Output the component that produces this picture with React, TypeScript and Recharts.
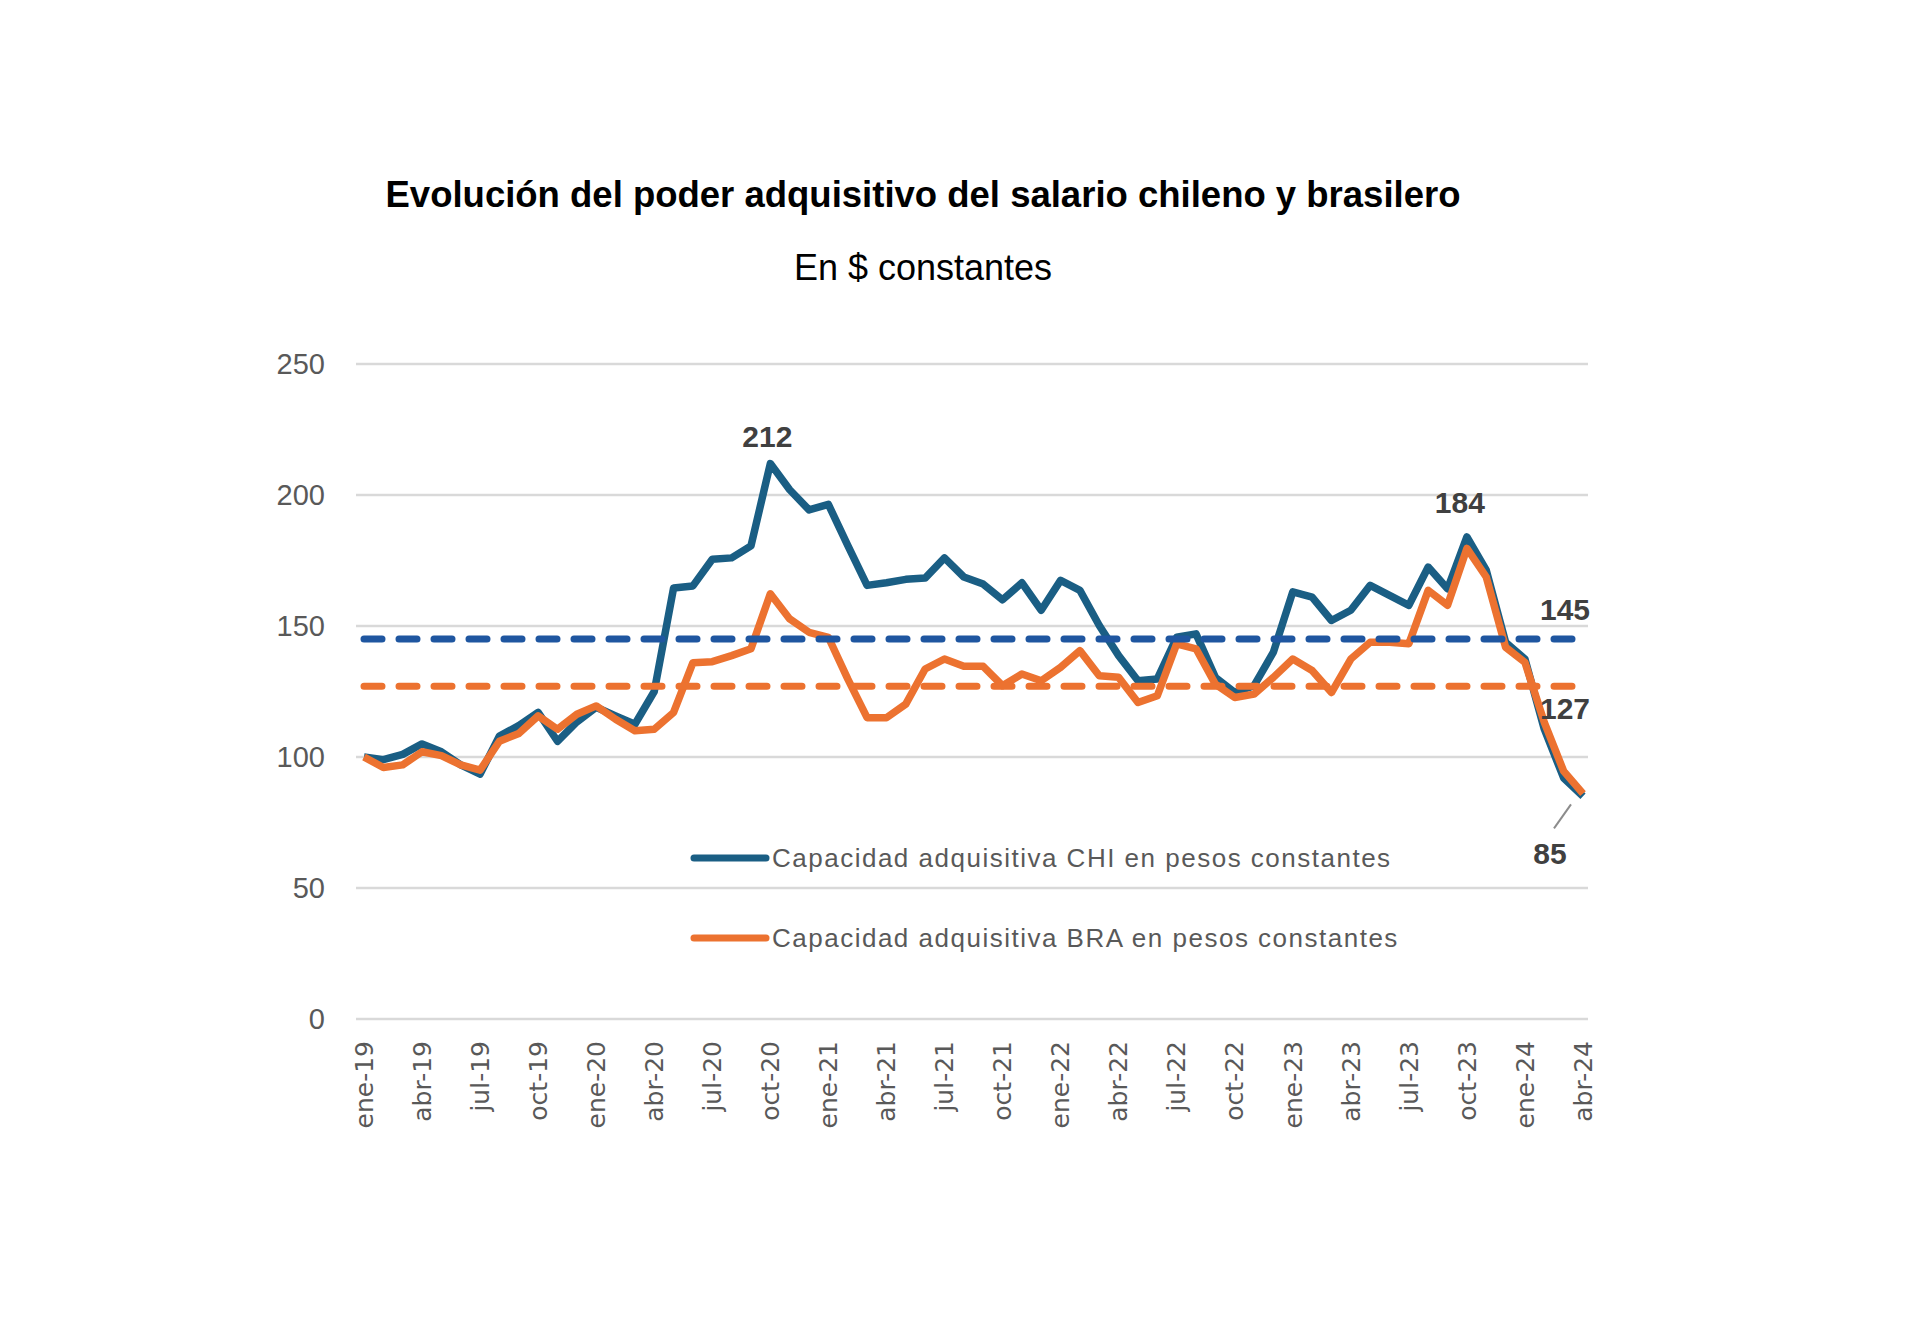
import { LineChart, Line, XAxis, YAxis, CartesianGrid, ReferenceLine, Legend } from "recharts";

const months = [
  "ene-19", "feb-19", "mar-19", "abr-19", "may-19", "jun-19", "jul-19", "ago-19", "sep-19", "oct-19", "nov-19", "dic-19",
  "ene-20", "feb-20", "mar-20", "abr-20", "may-20", "jun-20", "jul-20", "ago-20", "sep-20", "oct-20", "nov-20", "dic-20",
  "ene-21", "feb-21", "mar-21", "abr-21", "may-21", "jun-21", "jul-21", "ago-21", "sep-21", "oct-21", "nov-21", "dic-21",
  "ene-22", "feb-22", "mar-22", "abr-22", "may-22", "jun-22", "jul-22", "ago-22", "sep-22", "oct-22", "nov-22", "dic-22",
  "ene-23", "feb-23", "mar-23", "abr-23", "may-23", "jun-23", "jul-23", "ago-23", "sep-23", "oct-23", "nov-23", "dic-23",
  "ene-24", "feb-24", "mar-24", "abr-24",
];

// Capacidad adquisitiva CHI (base ene-19 = 100)
const chi = [
  100, 99, 101, 105, 102, 97, 93.5, 108, 112, 117, 106, 113.4,
  119, 115.7, 112.5, 125, 164.5, 165.3, 175.5, 176, 180.6, 212, 202, 194.3,
  196.4, 180.8, 165.5, 166.5, 167.8, 168.3, 176, 168.7, 166, 160, 166.5, 156,
  167.4, 163.6, 150.2, 138.7, 129.1, 129.8, 145.7, 147, 130.4, 124.6, 127.2, 140,
  163, 161, 152.1, 156, 165.5, 161.7, 157.9, 172.5, 164.2, 184, 171.3, 143.8,
  137.4, 110.6, 92, 85,
];

// Capacidad adquisitiva BRA (base ene-19 = 100)
const bra = [
  100, 96, 97, 102, 100.5, 97, 95, 106, 109, 115.7, 110.6, 116.3,
  119.5, 114.4, 110, 110.6, 117, 136, 136.4, 138.7, 141.3, 162.3, 152.7, 147.6,
  145.7, 129.8, 115, 115, 120.2, 133.6, 137.4, 134.6, 134.6, 127.2, 131.7, 129.1,
  134.2, 140.6, 131, 130.4, 120.8, 123.4, 143.2, 141.3, 127.8, 122.7, 124, 130.4,
  137.4, 133, 124.6, 137.4, 143.8, 143.8, 143.2, 163.6, 157.9, 179.6, 168.7, 141.9,
  136.1, 113.2, 94.6, 86,
];

const chiAvg = 145;
const braAvg = 127;
const yTicks = [0, 50, 100, 150, 200, 250];

const seriesNames = {
  chi: "Capacidad adquisitiva CHI en pesos constantes",
  bra: "Capacidad adquisitiva BRA en pesos constantes",
};

const CHI_COLOR = "#1A5E84";
const BRA_COLOR = "#EC7230";
const CHI_AVG_COLOR = "#1F56A0";
const BRA_AVG_COLOR = "#EC7230";
const TEXT_GRAY = "#595959";
const LABEL_DARK = "#404040";

const data = months.map((m, i) => ({ month: m, chi: chi[i], bra: bra[i] }));

function MonthTick({ x, y, payload }: any) {
  return (
    <g transform={`translate(${x},${y}) rotate(-90)`}>
      <text x={0} y={0} dy="0.35em" textAnchor="end" fill={TEXT_GRAY} fontSize={25} fontFamily="DejaVu Sans">
        {payload.value}
      </text>
    </g>
  );
}

const numStyle = { fontFamily: "Liberation Sans, Arial", fontWeight: 700, fontSize: 30, fill: LABEL_DARK };

// peaks marked above the line, last point marked below with a leader
const peakOffsets: Record<number, [number, number]> = { 21: [-3, -27], 57: [-7, -34] };

function ChiLabel(p: any) {
  const { x, y, index, value } = p;
  if (peakOffsets[index]) {
    const [dx, dy] = peakOffsets[index];
    return (
      <text x={x + dx} y={y + dy} textAnchor="middle" dominantBaseline="central" {...numStyle}>
        {Math.round(value)}
      </text>
    );
  }
  if (index === chi.length - 1) {
    return (
      <g>
        <line x1={x - 12} y1={y + 8} x2={x - 29} y2={y + 32} stroke="#8c8c8c" strokeWidth={2} />
        <text x={x - 33} y={y + 57} textAnchor="middle" dominantBaseline="central" {...numStyle}>
          {Math.round(value)}
        </text>
      </g>
    );
  }
  return <g />;
}

function avgLabel(text: string, dy: number) {
  return (p: any) => {
    const vb = p.viewBox || {};
    return (
      <text x={vb.x + vb.width - 18} y={vb.y + dy} textAnchor="middle" dominantBaseline="central" {...numStyle}>
        {text}
      </text>
    );
  };
}

function LegendBox() {
  const rows = [
    { name: seriesNames.chi, color: CHI_COLOR },
    { name: seriesNames.bra, color: BRA_COLOR },
  ];
  return (
    <div style={{ position: "relative", width: 720, height: 120 }}>
      {rows.map((r, i) => (
        <div key={r.name} style={{ position: "absolute", left: 0, top: i * 80, height: 40, display: "flex", alignItems: "center" }}>
          <svg width={82} height={12}>
            <line x1={4} y1={6} x2={76} y2={6} stroke={r.color} strokeWidth={7} strokeLinecap="round" />
          </svg>
          <span style={{ fontFamily: "Liberation Sans, Arial", fontSize: 26, letterSpacing: 1.5, color: TEXT_GRAY, whiteSpace: "nowrap" }}>
            {r.name}
          </span>
        </div>
      ))}
    </div>
  );
}

export default function App() {
  return (
    <div style={{ position: "absolute", left: 0, top: 0, width: 1920, height: 1318, background: "#fff" }}>
      <div style={{ position: "absolute", left: 0, top: 176, width: 1846, textAlign: "center", fontFamily: "Liberation Sans, Arial", fontWeight: 700, fontSize: 36.5, lineHeight: "38px", color: "#000" }}>
        Evolución del poder adquisitivo del salario chileno y brasilero
      </div>
      <div style={{ position: "absolute", left: 0, top: 249, width: 1846, textAlign: "center", fontFamily: "Liberation Sans, Arial", fontSize: 36, lineHeight: "38px", color: "#000" }}>
        En $ constantes
      </div>
      <div style={{ position: "absolute", left: 0, top: 0 }}>
        <LineChart width={1920} height={1318} data={data} margin={{ top: 364, right: 332, bottom: 219, left: 256 }}>
          <CartesianGrid horizontal vertical={false} stroke="#d9d9d9" strokeWidth={2.5} />
          <XAxis
            dataKey="month"
            interval={2}
            tick={<MonthTick />}
            tickLine={false}
            axisLine={false}
            tickSize={0}
            tickMargin={22}
            height={80}
            padding={{ left: 8, right: 5 }}
          />
          <YAxis
            domain={[0, 250]}
            ticks={yTicks}
            tickLine={false}
            axisLine={false}
            tickSize={0}
            tickMargin={31}
            width={100}
            tick={{ fill: TEXT_GRAY, fontSize: 29, fontFamily: "Liberation Sans, Arial" }}
          />
          <Legend layout="horizontal" verticalAlign="middle" content={<LegendBox />} wrapperStyle={{ left: 690, top: 838, width: 720 }} />
          <Line
            type="linear"
            dataKey="chi"
            name={seriesNames.chi}
            stroke={CHI_COLOR}
            strokeWidth={7.5}
            strokeLinejoin="round"
            dot={false}
            label={ChiLabel}
            isAnimationActive={false}
          />
          <Line
            type="linear"
            dataKey="bra"
            name={seriesNames.bra}
            stroke={BRA_COLOR}
            strokeWidth={7.5}
            strokeLinejoin="round"
            dot={false}
            isAnimationActive={false}
          />
          <ReferenceLine
            segment={[{ x: months[0], y: chiAvg }, { x: months[months.length - 1], y: chiAvg }]}
            stroke={CHI_AVG_COLOR}
            strokeWidth={7}
            strokeDasharray="18 17"
            strokeLinecap="round"
            label={avgLabel(String(chiAvg), -30)}
          />
          <ReferenceLine
            segment={[{ x: months[0], y: braAvg }, { x: months[months.length - 1], y: braAvg }]}
            stroke={BRA_AVG_COLOR}
            strokeWidth={7}
            strokeDasharray="18 17"
            strokeLinecap="round"
            label={avgLabel(String(braAvg), 22)}
          />
        </LineChart>
      </div>
    </div>
  );
}
